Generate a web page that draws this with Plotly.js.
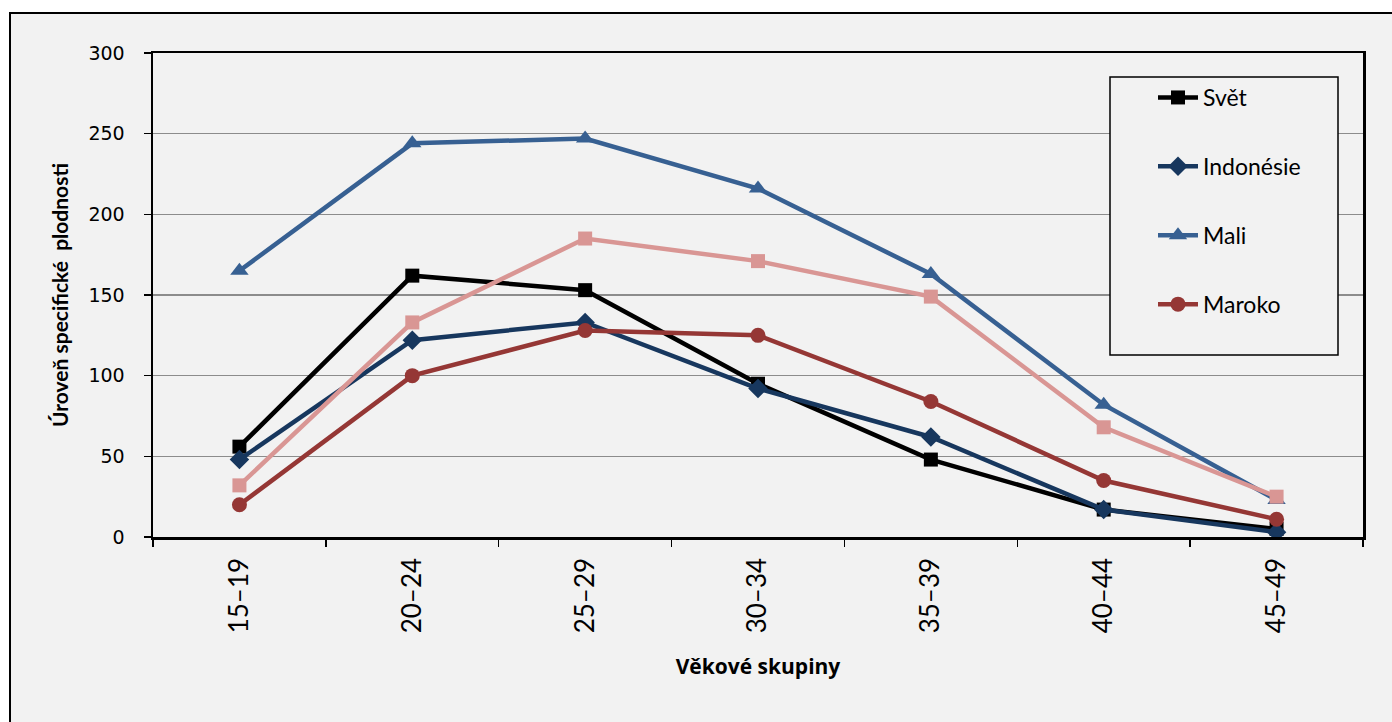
<!DOCTYPE html>
<html>
<head>
<meta charset="utf-8">
<script src="https://cdn.plot.ly/plotly-3.0.1.min.js"></script>
<style>html,body{margin:0;padding:0;background:#fff;}#chart{width:1392px;height:722px;}</style>
</head>
<body>
<div id="chart"></div>
<script>
const categories = ["15\u201319","20\u201324","25\u201329","30\u201334","35\u201339","40\u201344","45\u201349"];
const svet      = [56, 162, 153, 95, 48, 17, 5];
const indonesie = [48, 122, 133, 92, 62, 17, 3];
const mali      = [165, 244, 247, 216, 163, 82, 23];
const pink      = [32, 133, 185, 171, 149, 68, 25];
const maroko    = [20, 100, 128, 125, 84, 35, 11];

const W = 1392, H = 722;
const mL = 153, mR = 29, mT = 53, mB = 185;
const pw = W - mL - mR, ph = H - mT - mB;
const px = v => (v - mL) / pw;
const py = v => (H - mB - v) / ph;

function tr(name, y, color, symbol, size, showlegend, grp) {
  return {
    x: categories, y: y, name: name, type: 'scatter', mode: 'lines+markers',
    line: {color: color, width: 4.5},
    marker: {color: color, symbol: symbol, size: size, line: {width: 0}},
    showlegend: showlegend, legendgroup: grp
  };
}

const data = [
  tr('Svět', svet, '#000000', 'square', 14, true, 'a'),
  tr('Indonésie', indonesie, '#17375e', 'diamond', 15, true, 'b'),
  tr('Mali', mali, '#376092', 'triangle-up', 16, true, 'c'),
  tr('Série 5', pink, '#d99694', 'square', 14, false, 'e'),
  tr('Maroko', maroko, '#953735', 'circle', 15, true, 'd')
];

const layout = {
  width: W, height: H,
  margin: {l: mL, r: mR, t: mT, b: mB},
  paper_bgcolor: '#ffffff',
  plot_bgcolor: '#ffffff',
  font: {family: 'Lato, "Open Sans", sans-serif', color: '#000'},
  xaxis: {
    type: 'category',
    range: [-0.5, 6.5],
    tickson: 'boundaries',
    ticks: 'outside', ticklen: 7, tickwidth: 1.5, tickcolor: '#000',
    showline: true, linecolor: '#000', linewidth: 2.5, mirror: true,
    showgrid: false, zeroline: false,
    tickangle: -90,
    ticklabelstandoff: 8,
    tickfont: {size: 26, family: 'Lato, "Open Sans", sans-serif'},
    title: {text: '<b>Věkové skupiny</b>', font: {size: 21, family: '"Open Sans", Lato, sans-serif'}, standoff: 27}
  },
  yaxis: {
    range: [0, 300], dtick: 50,
    ticks: 'outside', ticklen: 7, tickwidth: 1.5, tickcolor: '#000',
    showline: true, linecolor: '#000', linewidth: 2.5, mirror: true,
    showgrid: true, gridcolor: '#8c8c8c', gridwidth: 1.5,
    zeroline: false,
    ticklabelstandoff: 15,
    tickfont: {size: 19, family: '"DejaVu Sans", Verdana, sans-serif'},
    title: {text: '<b>Úroveň specifické\u00a0 plodnosti</b>', font: {size: 21, family: 'Lato, "Open Sans", sans-serif'}, standoff: 14}
  },
  legend: {
    x: px(1153), y: py(76), xanchor: 'left', yanchor: 'top',
    bgcolor: 'rgba(0,0,0,0)', borderwidth: 0,
    font: {size: 23, family: 'Lato, "Open Sans", sans-serif'},
    traceorder: 'grouped', tracegroupgap: 36,
    itemwidth: 40
  },
  shapes: [
    {type: 'rect', xref: 'paper', yref: 'paper', layer: 'below',
     x0: px(10), x1: px(1420), y0: py(13), y1: py(760),
     fillcolor: '#f2f2f2', line: {color: '#000', width: 2}},
    {type: 'rect', xref: 'paper', yref: 'paper', layer: 'above',
     x0: px(1110), x1: px(1338), y0: py(77), y1: py(355),
     fillcolor: '#f2f2f2', line: {color: '#000', width: 1.5}}
  ]
};

Plotly.newPlot('chart', data, layout, {displayModeBar: false, staticPlot: true});
</script>
</body>
</html>
